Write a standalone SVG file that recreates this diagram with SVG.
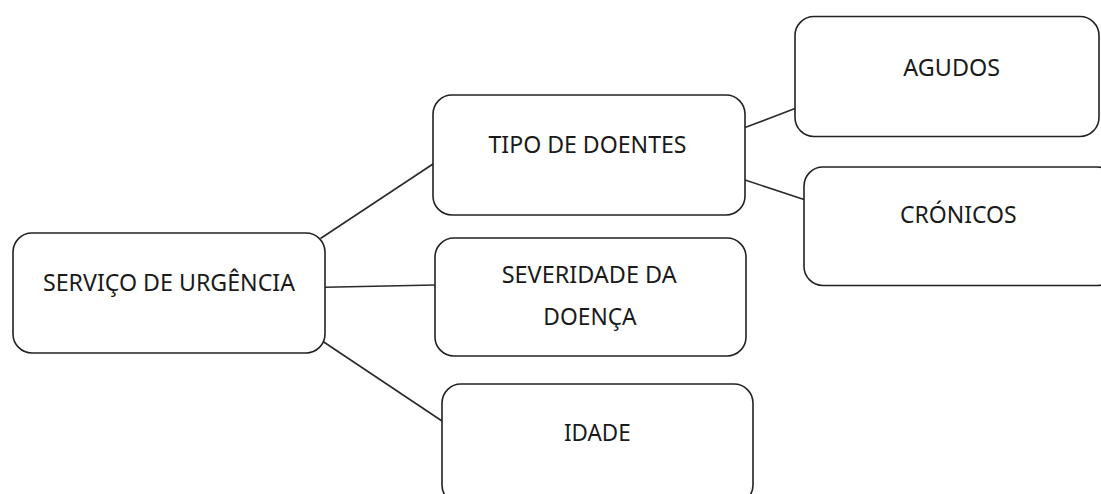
<svg xmlns="http://www.w3.org/2000/svg" width="1101" height="494" viewBox="0 0 1101 494">
<style>
.box{fill:#fff;stroke:#222;stroke-width:1.6}
.lbl{font-family:"Noto Sans","Open Sans","Liberation Sans",sans-serif;font-size:23px;fill:#1a1a1a;text-anchor:middle}
.conn line{stroke:#2a2a2a;stroke-width:1.6}
</style>
<rect width="1101" height="494" fill="#fff"/>
<g id="connectors" class="conn">
<line x1="320.5" y1="238.5" x2="433" y2="164"/>
<line x1="325" y1="287.3" x2="435" y2="285"/>
<line x1="323" y1="341.5" x2="442" y2="421"/>
<line x1="745" y1="127.5" x2="795" y2="108.5"/>
<line x1="745" y1="180" x2="804" y2="199.5"/>
</g>
<g id="n-servico">
<rect class="box" x="13" y="233" width="312" height="120" rx="19"/>
<text class="lbl" x="169" y="290.5" textLength="252" lengthAdjust="spacingAndGlyphs">SERVIÇO DE URGÊNCIA</text>
</g>
<g id="n-tipo">
<rect class="box" x="433" y="95" width="312" height="120" rx="19"/>
<text class="lbl" x="587.5" y="153.3" textLength="198" lengthAdjust="spacingAndGlyphs">TIPO DE DOENTES</text>
</g>
<g id="n-agudos">
<rect class="box" x="795" y="16.5" width="304" height="120" rx="19"/>
<text class="lbl" x="951.7" y="75.7" textLength="96.7" lengthAdjust="spacingAndGlyphs">AGUDOS</text>
</g>
<g id="n-cronicos">
<rect class="box" x="804" y="167" width="312" height="118.5" rx="19"/>
<text class="lbl" x="958.3" y="223.3" textLength="116.7" lengthAdjust="spacingAndGlyphs">CRÓNICOS</text>
</g>
<g id="n-severidade">
<rect class="box" x="435" y="238" width="311" height="118" rx="19"/>
<text class="lbl" x="589.2" y="283.3" textLength="175" lengthAdjust="spacingAndGlyphs">SEVERIDADE DA</text>
<text class="lbl" x="590" y="325" textLength="93.3" lengthAdjust="spacingAndGlyphs">DOENÇA</text>
</g>
<g id="n-idade">
<rect class="box" x="442" y="384" width="311" height="120" rx="19"/>
<text class="lbl" x="597.3" y="440.7" textLength="66.7" lengthAdjust="spacingAndGlyphs">IDADE</text>
</g>
</svg>
